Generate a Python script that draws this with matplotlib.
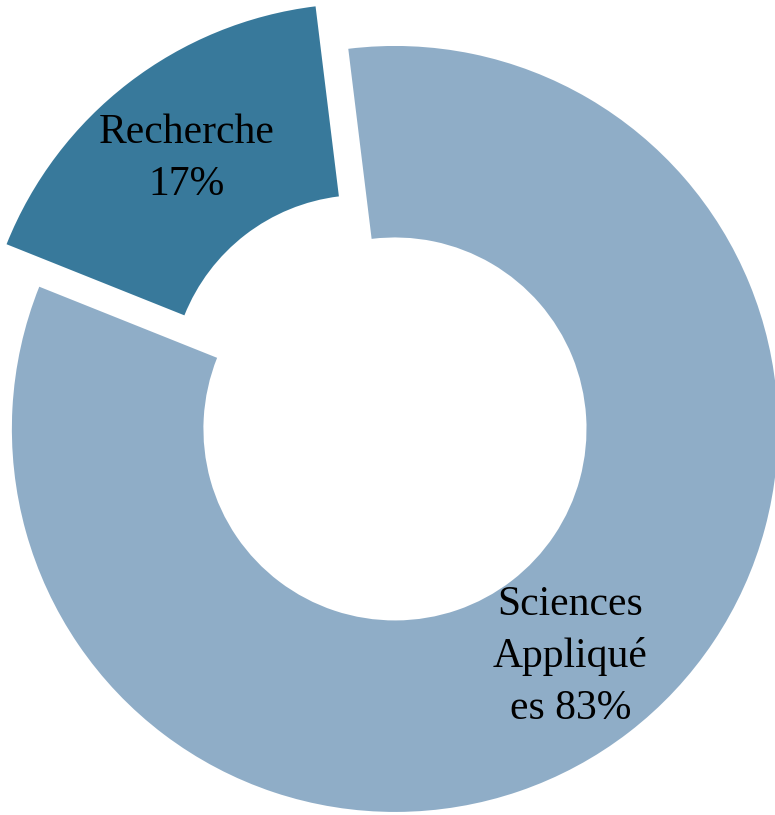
import matplotlib.pyplot as plt

# données
labels = ["Recherche\n17%", "Sciences\nAppliqué\nes 83%"]
values = [17, 83]
colors = ["#38799B", "#8FADC7"]
explode = [0.14, 0.0]

plt.rcParams["font.family"] = ["Liberation Serif", "DejaVu Serif"]

fig = plt.figure(figsize=(7.75, 8.15), dpi=100)
ax = fig.add_axes([0, 0, 1, 1])

wedges, texts = ax.pie(
    values,
    labels=labels,
    colors=colors,
    explode=explode,
    startangle=97,
    counterclock=True,
    labeldistance=0.75,
    wedgeprops=dict(width=0.5, linewidth=0),
    textprops=dict(fontsize=30, color="black", linespacing=1.45),
)
for t in texts:
    t.set_horizontalalignment("center")
    t.set_verticalalignment("center")
    t.set_multialignment("center")

ax.set_xlim(-1.031, 0.992)
ax.set_ylim(-1.008, 1.120)
ax.set_aspect("auto")
ax.axis("off")

fig.savefig("out.png", dpi=100)
